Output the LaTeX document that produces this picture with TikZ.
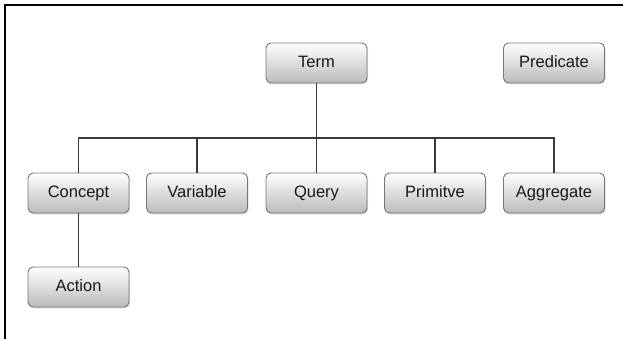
\documentclass[tikz,border=0pt]{standalone}
\usepackage{fontspec}
\setmainfont{Liberation Sans}
\usetikzlibrary{shadows}
\definecolor{boxline}{HTML}{767676}
\definecolor{boxbot}{HTML}{BBBBBB}
\definecolor{conncol}{HTML}{3A3A3A}
\definecolor{txt}{HTML}{1A1A1A}
\begin{document}
\begin{tikzpicture}[x=1pt,y=-1pt,
  tbox/.style={draw=boxline, line width=0.9pt, rounded corners=5pt,
    top color=white, bottom color=boxbot, minimum width=101pt, minimum height=40pt,
    inner sep=0pt, text height=12pt, text depth=3.5pt, text=txt,
    font=\fontsize{16.5}{19}\selectfont,
    drop shadow={shadow xshift=1pt, shadow yshift=-1.5pt, opacity=0.25}},
  conn/.style={draw=conncol, line width=1.5pt}]
\useasboundingbox (0,0) rectangle (623,339);
\fill[white] (0,0) rectangle (623,339);
\draw[line width=1.5pt, black] (5,339) -- (5,5) -- (623,5);
\coordinate (bus) at (0,138);
\node[tbox] (Term) at (316.5,63) {Term};
\node[tbox] (Predicate) at (554,63) {Predicate};
\node[tbox] (Concept) at (78.5,193) {Concept};
\node[tbox] (Variable) at (197,193) {Variable};
\node[tbox] (Query) at (316.5,193) {Query};
\node[tbox] (Primitve) at (435,193) {Primitve};
\node[tbox] (Aggregate) at (554,193) {Aggregate};
\node[tbox] (Action) at (78.5,287) {Action};
\draw[conn] (Concept.north) -- (Concept.north |- bus) -- (Aggregate.north |- bus) -- (Aggregate.north);
\draw[conn] (Term.south) -- (Term.south |- bus);
\draw[conn] (Variable.north) -- (Variable.north |- bus);
\draw[conn] (Query.north) -- (Query.north |- bus);
\draw[conn] (Primitve.north) -- (Primitve.north |- bus);
\draw[conn] (Concept.south) -- (Action.north);
\end{tikzpicture}
\end{document}
